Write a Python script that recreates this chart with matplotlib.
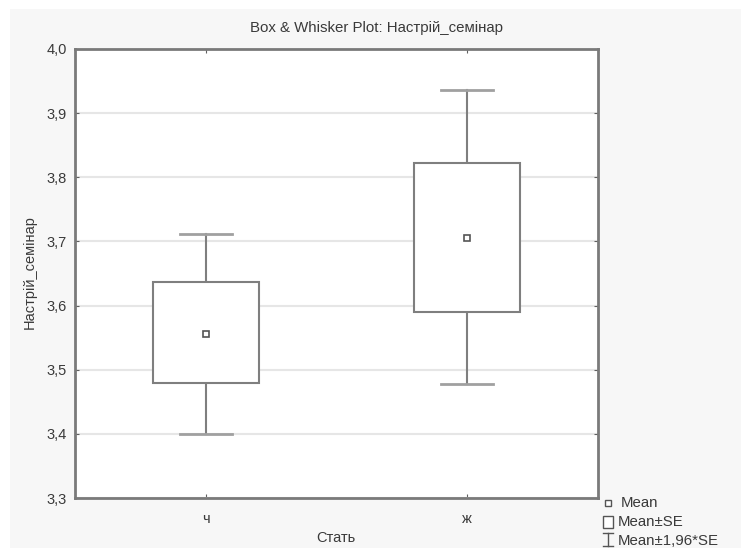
import matplotlib
matplotlib.use("Agg")
import matplotlib.pyplot as plt
from matplotlib.patches import Rectangle
from matplotlib.lines import Line2D

plt.rcParams['font.family'] = ['Liberation Sans', 'DejaVu Sans']

categories = ['ч', 'ж']
means = [3.555, 3.706]
box_low = [3.479, 3.590]
box_high = [3.636, 3.822]
whisk_low = [3.400, 3.477]
whisk_high = [3.712, 3.936]
yticks = [3.3, 3.4, 3.5, 3.6, 3.7, 3.8, 3.9, 4.0]
ytick_labels = ['3,3', '3,4', '3,5', '3,6', '3,7', '3,8', '3,9', '4,0']
title = 'Box & Whisker Plot: Настрій_семінар'
xlabel = 'Стать'
ylabel = 'Настрій_семінар'
legend_labels = ['Mean', 'Mean±SE', 'Mean±1,96*SE']

W, H = 741, 550
fs = 10.5
tc = '#3a3a3a'
fig = plt.figure(figsize=(W / 100, H / 100), dpi=100, facecolor='white')
fig.patches.append(Rectangle((10 / W, 2 / H), 1 - 10 / W, 1 - 11 / H,
                             transform=fig.transFigure, facecolor='#f7f7f7',
                             edgecolor='none', zorder=-10))
ax = fig.add_axes([75 / W, 1 - 498 / H, (598 - 75) / W, (498 - 49) / H])
ax.set_facecolor('white')

pos = list(range(len(categories)))
box_w = 0.405
cap_w = 0.2
lc = '#7f7f7f'
for i, p in enumerate(pos):
    ax.plot([p, p], [whisk_low[i], box_low[i]], color=lc, lw=1.5, zorder=3)
    ax.plot([p, p], [box_high[i], whisk_high[i]], color=lc, lw=1.5, zorder=3)
    ax.plot([p - cap_w / 2, p + cap_w / 2], [whisk_low[i]] * 2, color='#a0a0a0', lw=2, zorder=3)
    ax.plot([p - cap_w / 2, p + cap_w / 2], [whisk_high[i]] * 2, color='#a0a0a0', lw=2, zorder=3)
    ax.add_patch(Rectangle((p - box_w / 2, box_low[i]), box_w, box_high[i] - box_low[i],
                           facecolor='white', edgecolor=lc, lw=1.5, zorder=4))
ax.plot(pos, means, linestyle='none', marker='s', markersize=5, markerfacecolor='white',
        markeredgecolor='#555555', markeredgewidth=1.2, zorder=5)

ax.set_xlim(-0.5, 1.5)
ax.set_ylim(3.3, 4.0)
ax.set_yticks(yticks)
ax.set_yticklabels(ytick_labels)
ax.set_xticks(pos)
ax.set_xticklabels(categories)
ax.grid(axis='y', color='#e6e6e6', lw=1.5, zorder=0)
ax.set_axisbelow(True)
for s in ax.spines.values():
    s.set_color('#7a7a7a')
    s.set_linewidth(2)
ax.tick_params(axis='both', direction='in', length=3, color='#606060', labelsize=fs,
               labelcolor=tc, right=True, top=True, pad=6)
ax.tick_params(axis='x', pad=10)

fig.text(376 / W, 1 - 28 / H, title, ha='center', va='center', fontsize=fs + 0.3, color=tc)
fig.text(336 / W, 1 - 538 / H, xlabel, ha='center', va='center', fontsize=fs, color=tc)
fig.text(30 / W, 1 - 272 / H, ylabel, ha='center', va='center', rotation=90, fontsize=fs,
         color=tc)

# legend drawn in figure coordinates
lfs = 10.8
lx = 608 / W
fig.add_artist(Line2D([lx], [1 - 503 / H], marker='s', markersize=4, markerfacecolor='white',
                      markeredgecolor='#555555', markeredgewidth=1, transform=fig.transFigure))
fig.text(621 / W, 1 - 503 / H, legend_labels[0], ha='left', va='center', fontsize=lfs, color=tc)
fig.add_artist(Rectangle((603 / W, 1 - 528 / H), 10 / W, 12 / H, facecolor='white',
                         edgecolor='#555555', lw=1, transform=fig.transFigure))
fig.text(618 / W, 1 - 522 / H, legend_labels[1], ha='left', va='center', fontsize=lfs, color=tc)
fig.add_artist(Line2D([lx, lx], [1 - 533 / H, 1 - 546 / H], color='#555555', lw=1,
                      transform=fig.transFigure))
fig.add_artist(Line2D([603 / W, 613 / W], [1 - 533 / H] * 2, color='#555555', lw=1,
                      transform=fig.transFigure))
fig.add_artist(Line2D([603 / W, 613 / W], [1 - 546 / H] * 2, color='#555555', lw=1,
                      transform=fig.transFigure))
fig.text(618 / W, 1 - 541 / H, legend_labels[2], ha='left', va='center', fontsize=lfs, color=tc)

fig.savefig('out.png', dpi=100, facecolor='white')
